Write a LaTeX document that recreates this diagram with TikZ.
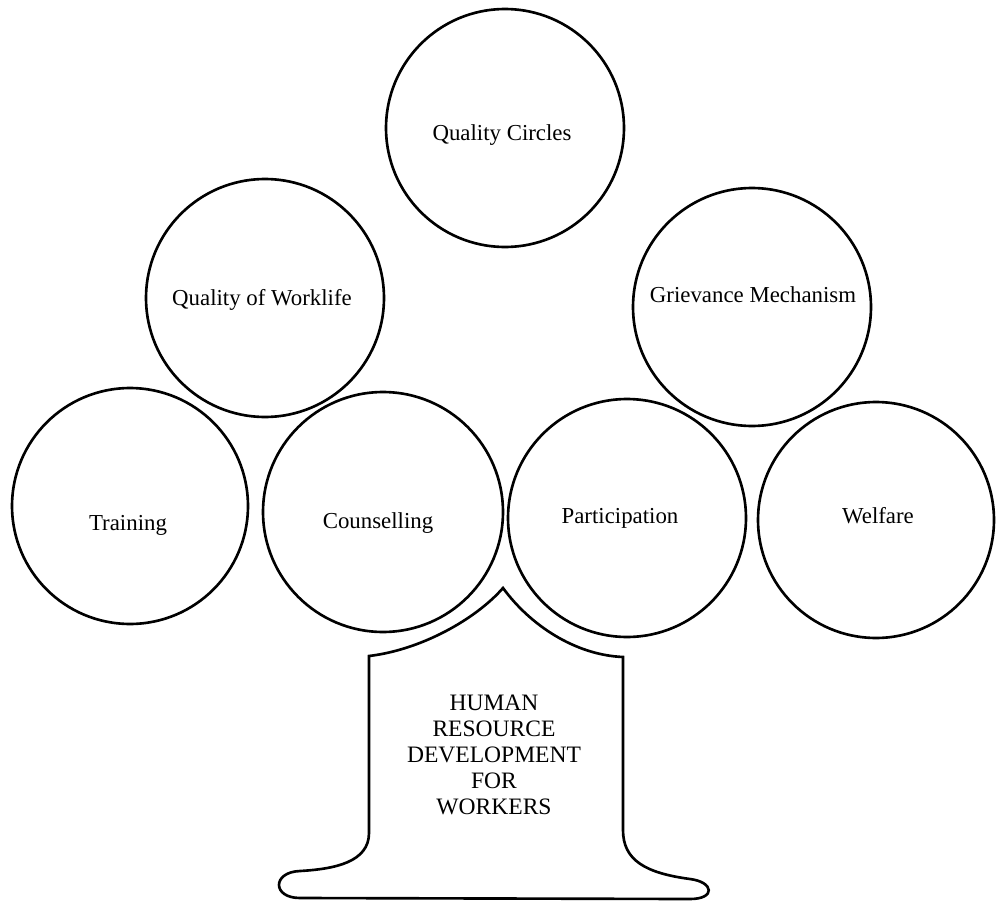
\documentclass[tikz,border=0pt]{standalone}
\usepackage{fontspec}
\setmainfont{Liberation Serif}
\begin{document}
\begin{tikzpicture}[x=0.02cm,y=-0.02cm, line width=1.5pt,
  bubble/.style={draw, circle, inner sep=0pt},
  lbl/.style={font=\fontsize{13}{15}\selectfont, inner sep=0pt},
  trunktext/.style={font=\fontsize{13.4}{14.8}\selectfont, align=center, inner sep=0pt}]
\useasboundingbox (0,0) rectangle (997,906);
% circles
\node[bubble, minimum size=4.76cm] (qc) at (505,128) {};
\node[bubble, minimum size=4.76cm] (qwl) at (265,298) {};
\node[bubble, minimum size=4.76cm] (gm) at (752,307) {};
\node[bubble, minimum size=4.72cm] (tr) at (130,506) {};
\node[bubble, minimum size=4.80cm] (co) at (383,512) {};
\node[bubble, minimum size=4.76cm] (pa) at (627,518) {};
\node[bubble, minimum size=4.72cm] (we) at (876,520) {};
% labels
\node[lbl] (qct) at (502,135) {Quality Circles};
\node[lbl] (qwlt) at (262,300) {Quality of Worklife};
\node[lbl] (gmt) at (753,295) {Grievance Mechanism};
\node[lbl] (trt) at (128,525) {Training};
\node[lbl] (cot) at (378,523) {Counselling};
\node[lbl] (pat) at (620,518) {Participation};
\node[lbl] (wet) at (878,516) {Welfare};
% trunk
\coordinate (apex) at (503,588);
\draw (apex) .. controls (475,620) and (420,650) .. (369,656)
  -- (369,833) .. controls (369,862) and (335,869) .. (300,871)
  .. controls (272,872) and (272,898) .. (300,898)
  -- (690,899) .. controls (716,899) and (714,882) .. (690,879)
  .. controls (645,873) and (623,860) .. (623,830)
  -- (623,657) .. controls (575,655) and (530,625) .. (apex) -- cycle;
\node[trunktext] (hrd) at (494,755) {HUMAN\\RESOURCE\\DEVELOPMENT\\FOR\\WORKERS};
\end{tikzpicture}
\end{document}
